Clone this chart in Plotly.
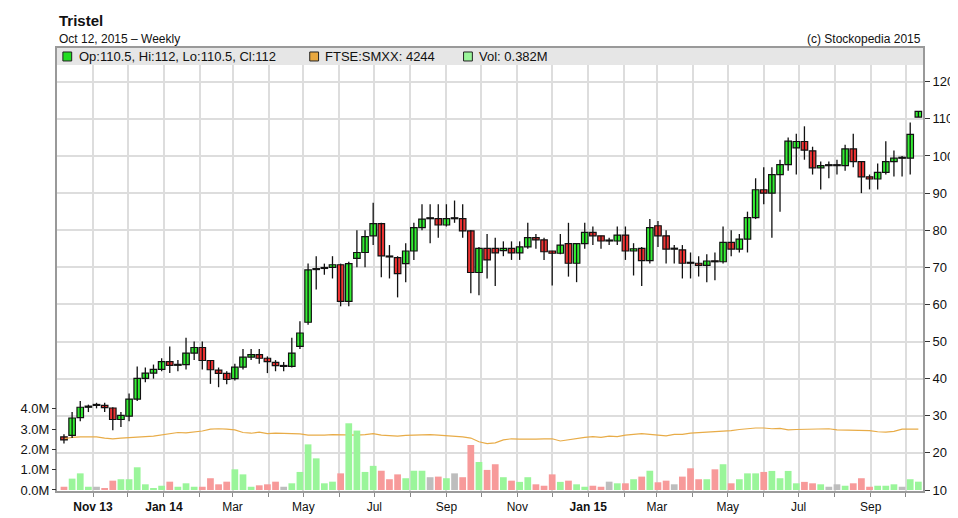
import plotly.graph_objects as go
import pandas as pd

dates = pd.date_range(end="2015-10-12", periods=106, freq="7D")

opens = [24.3,24.7,29.5,32.3,32.8,32.8,32.1,29.0,29.9,34.5,40.1,41.5,42.5,44.6,43.6,43.8,46.9,48.4,44.9,42.3,
         41.4,40.0,43.1,45.8,46.5,45.5,44.4,43.3,43.3,48.7,55.2,69.4,69.7,70.0,70.7,60.8,72.4,74.0,78.5,81.8,
         72.9,72.6,71.0,74.4,80.7,83.1,83.1,81.4,83.1,83.1,79.8,68.6,75.1,75.1,74.5,75.1,73.9,75.5,78.0,77.4,
         74.4,73.8,76.4,71.1,76.4,79.4,78.5,77.1,77.1,78.7,74.4,75.1,71.8,81.2,78.5,74.9,74.7,71.2,71.1,70.5,
         71.6,71.5,76.7,74.9,77.6,83.4,90.9,90.0,95.0,97.7,102.2,103.9,101.4,96.8,97.4,97.4,97.4,101.9,98.5,94.4,
         93.8,95.6,98.5,99.4,99.4,110.5]
highs = [25.0,31.0,34.0,33.0,33.5,33.5,32.3,31.0,36.0,43.3,43.0,43.8,45.5,48.7,45.0,51.0,50.0,50.0,45.0,43.0,
         42.0,44.0,48.0,48.0,48.0,46.0,45.0,44.5,51.0,55.5,71.0,73.0,71.0,73.0,71.0,71.5,80.0,80.0,87.4,82.0,
         76.0,73.0,76.5,82.0,87.0,87.0,87.0,87.0,88.0,87.0,80.0,75.5,79.0,78.0,77.0,77.0,77.0,82.0,79.0,78.0,
         74.5,79.0,82.0,76.5,82.0,81.0,78.5,78.0,81.0,81.0,76.5,75.5,83.0,82.5,80.0,76.0,76.0,74.0,73.0,73.5,
         74.0,81.0,80.0,79.0,85.0,94.0,97.0,97.0,99.0,105.0,106.0,108.0,102.5,98.5,98.5,99.0,103.0,106.0,98.5,95.0,
         98.0,104.0,101.5,100.0,109.0,112.0]
lows = [22.5,24.0,28.5,31.0,32.0,31.0,26.1,27.0,28.5,34.0,39.0,40.0,42.0,41.5,42.0,42.5,45.0,42.5,38.6,37.7,
        38.5,39.5,42.5,45.0,44.0,41.5,42.0,42.0,43.0,48.0,54.5,64.0,68.0,67.0,59.5,59.5,70.0,70.0,76.0,67.3,
        67.0,61.9,66.0,72.0,80.0,76.5,78.0,81.0,82.0,78.0,63.0,62.5,67.0,65.0,73.0,72.0,72.0,75.0,75.0,72.0,
        65.1,73.5,67.5,66.0,75.0,76.0,75.0,76.0,76.0,72.0,67.8,65.0,71.0,75.5,71.0,71.0,67.0,67.0,67.5,66.0,
        66.5,71.0,73.0,74.0,74.0,83.0,87.0,78.0,85.0,96.0,95.0,99.0,95.0,91.0,94.0,95.0,96.0,97.0,90.0,91.0,
        91.0,95.0,94.5,94.5,95.0,110.5]
closes = [23.5,29.4,32.3,32.6,32.8,32.2,29.0,30.1,34.5,40.1,41.5,42.5,44.6,43.6,43.7,46.9,48.4,44.9,42.4,41.4,
          39.8,43.1,45.8,46.5,45.5,44.6,43.5,43.3,46.9,52.3,69.3,69.6,69.9,70.7,60.8,71.0,74.0,78.3,81.8,73.1,
          72.8,68.3,74.4,80.7,83.0,83.1,81.4,83.1,83.1,79.8,68.6,75.1,72.0,73.9,75.1,73.9,75.5,78.0,77.4,74.2,
          73.8,76.0,71.1,76.4,79.4,78.5,77.1,77.1,78.7,74.4,75.0,71.8,80.7,78.5,74.9,74.9,71.1,71.1,70.5,71.7,
          71.5,76.7,74.9,77.6,83.4,90.9,90.0,95.0,97.7,104.0,103.9,101.6,96.8,97.4,97.4,97.4,101.9,98.5,94.4,93.8,
          95.6,98.5,99.4,99.4,105.8,112.0]
volume_m = [0.16,0.56,0.82,0.16,0.16,0.08,0.46,0.53,0.53,1.12,0.28,0.08,0.21,0.41,0.16,0.33,0.16,0.16,0.58,0.28,
            0.41,1.02,0.77,0.16,0.23,0.28,0.41,0.16,0.33,0.89,2.25,1.56,0.33,0.41,0.82,3.29,2.93,0.89,1.19,0.95,
            0.53,0.77,0.58,0.95,0.95,0.63,0.66,0.58,0.82,0.63,2.22,1.38,0.99,1.27,0.63,0.46,0.40,0.63,0.28,0.21,
            0.77,0.40,0.46,0.28,0.16,0.21,0.16,0.41,0.33,0.33,0.53,0.66,0.95,0.38,0.46,0.28,0.66,1.07,0.53,0.53,
            1.02,1.27,0.33,0.53,0.82,0.82,0.89,0.94,0.58,0.94,0.33,0.40,0.33,0.28,0.16,0.28,0.21,0.33,0.58,0.16,
            0.21,0.21,0.28,0.16,0.53,0.41]
ftse = [23.8,24.2,24.3,24.4,24.3,24.0,23.8,24.0,24.2,24.3,24.4,24.5,24.8,25.2,25.5,25.4,25.6,25.9,26.4,26.5,
        26.4,26.2,25.5,25.3,25.6,25.2,25.3,25.3,25.3,25.1,24.8,24.7,24.8,24.9,24.8,24.7,24.8,24.9,25.2,24.8,
        24.6,24.5,24.7,24.8,24.9,24.9,24.8,24.7,24.5,24.3,24.0,23.0,22.5,22.7,23.5,23.8,23.7,23.6,23.7,23.8,
        23.8,23.2,23.6,23.9,24.2,24.4,24.2,24.5,24.4,24.8,25.0,25.2,25.0,24.9,24.6,25.0,25.0,25.3,25.4,25.5,
        25.6,25.8,26.0,26.3,26.6,26.7,26.7,26.5,26.6,26.2,26.3,26.4,26.5,26.6,26.5,26.2,26.2,26.2,26.1,26.0,
        25.7,25.6,25.8,26.4,26.4,26.4]

month_ticks = pd.date_range("2013-11-01", "2015-10-01", freq="MS")
month_labels = {"2013-11": "<b>Nov 13</b>", "2014-01": "<b>Jan 14</b>", "2015-01": "<b>Jan 15</b>"}
tick_text = []
for d in month_ticks:
    k = d.strftime("%Y-%m")
    if k in month_labels:
        tick_text.append(month_labels[k])
    elif d.month % 2 == 1:
        tick_text.append(d.strftime("%b"))
    else:
        tick_text.append("")

price_ticks = list(range(10, 130, 10))
vol_ticks = [0, 1, 2, 3, 4]
vol_labels = ["0.0M", "1.0M", "2.0M", "3.0M", "4.0M"]

FONT = "Liberation Sans"
DAY = 86400000

def direction(o, c):
    return "g" if c > o else ("r" if c < o else "n")

dirs = [direction(o, c) for o, c in zip(opens, closes)]
vol_cmap = {"g": "#9af59a", "r": "#f79a9a", "n": "#bdbdbd"}
body_cmap = {"g": "#33ee33", "r": "#ee3333", "n": "#111111"}

fig = go.Figure()
fig.add_trace(go.Bar(x=dates, y=volume_m, marker=dict(color=[vol_cmap[c] for c in dirs], line_width=0),
                     yaxis="y2", width=5.8 * DAY, showlegend=False))
fig.add_trace(go.Scatter(x=dates, y=ftse, mode="lines", line=dict(color="#e8ac48", width=1.2),
                         showlegend=False))
wx, wy = [], []
for d, h, l in zip(dates, highs, lows):
    wx += [d, d, None]
    wy += [h, l, None]
fig.add_trace(go.Scatter(x=wx, y=wy, mode="lines", line=dict(color="#111111", width=1.3), showlegend=False))
bases = [min(o, c) for o, c in zip(opens, closes)]
heights = [max(abs(c - o), 0.25) for o, c in zip(opens, closes)]
fig.add_trace(go.Bar(x=dates, y=heights, base=bases, width=5.6 * DAY,
                     marker=dict(color=[body_cmap[c] for c in dirs], line=dict(color="#111111", width=1.2)),
                     showlegend=False))

H = 444
band = 17 / H
fig.update_layout(
    width=958, height=518,
    margin=dict(l=36, r=38, t=40, b=34),
    paper_bgcolor="white", plot_bgcolor="white",
    font=dict(family=FONT, size=12, color="#111111"),
    barmode="overlay",
    xaxis=dict(type="date", range=["2013-10-01", "2015-10-16"],
               tickvals=list(month_ticks), ticktext=tick_text, ticks="outside", ticklen=4,
               tickcolor="#888", showgrid=True, gridcolor="#dddddd", gridwidth=1.5,
               showline=True, linecolor="#999999", linewidth=2, mirror=True,
               tickfont=dict(size=12, color="#111")),
    yaxis=dict(side="right", range=[9.73, 129.1], tickvals=price_ticks, ticks="outside", ticklen=5,
               tickcolor="#333", showgrid=True, gridcolor="#dddddd", gridwidth=1.5,
               showline=True, linecolor="#999999", linewidth=2, mirror=True, zeroline=False,
               tickfont=dict(size=13, color="#111")),
    yaxis2=dict(overlaying="y", side="left", range=[-0.05, 21.8], tickvals=vol_ticks, ticktext=vol_labels,
                ticks="outside", ticklen=4, tickcolor="#333", showgrid=False, zeroline=False,
                tickfont=dict(size=13, color="#111")),
)

fig.add_shape(type="rect", xref="paper", yref="paper", x0=0, x1=1, y0=1 - band, y1=1,
              fillcolor="#e6e6e6", line=dict(width=0), layer="above")

def px(v):
    return (v - 36) / 884

legend_items = [(42, "#22dd22", "Op:110.5, Hi:112, Lo:110.5, Cl:112"),
                (294, "#e8a840", "FTSE:SMXX: 4244"),
                (451, "#9af59a", "Vol: 0.382M")]
for x0, col, txt in legend_items:
    fig.add_shape(type="rect", xref="paper", yref="paper", x0=px(x0), x1=px(x0 + 9),
                  y0=1 - 13 / H, y1=1 - 4 / H, fillcolor=col, line=dict(color="#222", width=1), layer="above")
    fig.add_annotation(xref="paper", yref="paper", x=px(x0 + 14), y=1 - band / 2, text=txt,
                       showarrow=False, xanchor="left", yanchor="middle", font=dict(size=13, color="#111"))

fig.add_annotation(xref="paper", yref="paper", x=0, y=1 + 28 / H, text="<b>Tristel</b>", showarrow=False,
                   xanchor="left", yanchor="middle", font=dict(size=15, color="#111"))
fig.add_annotation(xref="paper", yref="paper", x=0, y=1 + 9 / H, text="Oct 12, 2015 \u2013 Weekly", showarrow=False,
                   xanchor="left", yanchor="middle", font=dict(size=12, color="#111"))
fig.add_annotation(xref="paper", yref="paper", x=1, y=1 + 9 / H, text="(c) Stockopedia 2015", showarrow=False,
                   xanchor="right", yanchor="middle", font=dict(size=12, color="#111"))

fig.write_html("out.html")
